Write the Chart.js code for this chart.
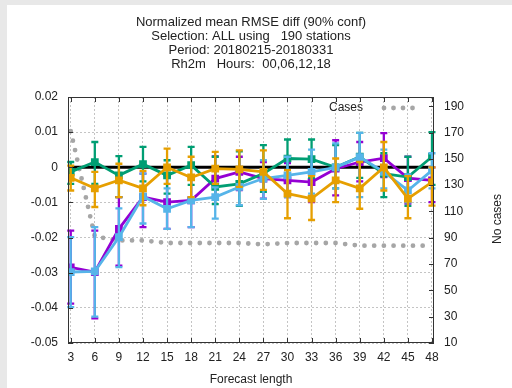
<!DOCTYPE html>
<html>
<head>
<meta charset="utf-8">
<script src="https://cdn.jsdelivr.net/npm/chart.js@4"></script>
<style>
  html, body { margin: 0; padding: 0; background: #e8e8e8; }
  #box { position: absolute; left: 7px; top: 5px; width: 505px; height: 383px; background: #fff; }
</style>
</head>
<body>
<div id="box"><canvas id="chartRmse" width="505" height="383"></canvas></div>
<script>
// forecast lengths (h)
const hours = [3, 6, 9, 12, 15, 18, 21, 24, 27, 30, 33, 36, 39, 42, 45, 48];
const yTicks = [-0.05, -0.04, -0.03, -0.02, -0.01, 0, 0.01, 0.02];
const caseTicks = [10, 30, 50, 70, 90, 110, 130, 150, 170, 190];

// number of cases (right axis)
const cases = [171, 91, 88, 88, 86, 86, 86, 86, 85, 86, 86, 86, 84, 84, 84, 84];

// purple
const purpleVal = [-0.0285, -0.0298, -0.0175, -0.0085, -0.0099, -0.0094, -0.0032, -0.0013, -0.0032, -0.0037, -0.0042, -0.0004, 0.0015, 0.0026, -0.0031, -0.0037];
const purpleLo  = [-0.0388, -0.0430, -0.0280, -0.0170, -0.0175, -0.0170, -0.0085, -0.0065, -0.0089, -0.0085, -0.0099, -0.0080, -0.0040, -0.0028, -0.0103, -0.0099];
const purpleHi  = [-0.0180, -0.0180, -0.0085, -0.0018, -0.0025, -0.0028, 0.0031, 0.0030, 0.0015, 0.0012, 0.0020, 0.0077, 0.0072, 0.0097, 0.0030, 0.0000];

// green
const greenVal = [-0.0013, 0.0015, -0.0023, 0.0009, -0.0023, 0.0006, -0.0056, -0.0047, -0.0018, 0.0025, 0.0023, 0.0000, 0.0030, -0.0018, -0.0028, 0.0030];
const greenLo  = [-0.0047, -0.0047, -0.0085, -0.0040, -0.0075, -0.0050, -0.0105, -0.0110, -0.0070, -0.0030, -0.0030, -0.0060, -0.0030, -0.0085, -0.0110, -0.0050];
const greenHi  = [0.0015, 0.0072, 0.0032, 0.0058, 0.0020, 0.0058, 0.0030, 0.0045, 0.0063, 0.0079, 0.0079, 0.0063, 0.0098, 0.0040, 0.0030, 0.0100];

// light blue
const blueVal = [-0.0298, -0.0296, -0.0199, -0.0083, -0.0118, -0.0094, -0.0085, -0.0056, -0.0032, -0.0023, -0.0013, 0.0000, 0.0029, -0.0013, -0.0066, -0.0009];
const blueLo  = [-0.0398, -0.0425, -0.0284, -0.0160, -0.0175, -0.0170, -0.0146, -0.0108, -0.0090, -0.0085, -0.0075, -0.0060, -0.0085, -0.0060, -0.0100, -0.0060];
const blueHi  = [-0.0199, -0.0170, -0.0117, -0.0018, -0.0060, -0.0035, -0.0057, -0.0010, 0.0020, 0.0030, 0.0050, 0.0068, 0.0098, 0.0050, -0.0020, 0.0040];

// orange
const orangeVal = [-0.0030, -0.0060, -0.0037, -0.0060, 0.0000, -0.0029, -0.0004, -0.0006, -0.0013, -0.0075, -0.0089, -0.0037, -0.0060, 0.0000, -0.0089, -0.0042];
const orangeLo  = [-0.0066, -0.0113, -0.0085, -0.0108, -0.0047, -0.0085, -0.0047, -0.0056, -0.0064, -0.0145, -0.0150, -0.0099, -0.0118, -0.0066, -0.0145, -0.0109];
const orangeHi  = [0.0005, -0.0013, 0.0010, -0.0010, 0.0053, 0.0030, 0.0044, 0.0048, 0.0048, -0.0008, -0.0025, 0.0025, 0.0015, 0.0072, -0.0025, 0.0000];

const titleLines = ['Normalized mean RMSE diff (90% conf)', 'Selection: ALL using   190 stations',
  'Period: 20180215-20180331', 'Rh2m   Hours:  00,06,12,18'];

const FONT = '"Liberation Sans", Arial, sans-serif';
const pts = vals => hours.map((h, i) => ({ x: h, y: vals[i] }));

function series(color, vals, lo, hi, order) {
  return {
    data: pts(vals), lo: lo, hi: hi, yAxisID: 'y', order: order,
    borderColor: color, backgroundColor: color, borderWidth: 2.8,
    pointStyle: 'rect', pointRadius: 3.5, tension: 0
  };
}

// error bars drawn right after each dataset so layering follows the dataset order
const errorBars = {
  id: 'errorBars',
  afterDatasetDraw(chart, args) {
    const ds = chart.data.datasets[args.index];
    if (!ds.lo) return;
    const ctx = chart.ctx, xs = chart.scales.x, ys = chart.scales.y;
    ctx.save();
    ctx.strokeStyle = ds.borderColor;
    ctx.lineWidth = 2.3;
    hours.forEach((h, i) => {
      const px = xs.getPixelForValue(h);
      const a = ys.getPixelForValue(ds.lo[i]), b = ys.getPixelForValue(ds.hi[i]);
      ctx.beginPath();
      ctx.moveTo(px, a); ctx.lineTo(px, b);
      ctx.moveTo(px - 3.5, a); ctx.lineTo(px + 3.5, a);
      ctx.moveTo(px - 3.5, b); ctx.lineTo(px + 3.5, b);
      ctx.stroke();
    });
    ctx.restore();
  }
};

const decor = {
  id: 'decor',
  beforeDatasetsDraw(chart) {
    const ctx = chart.ctx, a = chart.chartArea, ys = chart.scales.y;
    const y0 = ys.getPixelForValue(0);
    ctx.save();
    ctx.strokeStyle = '#000';
    ctx.lineWidth = 3;
    ctx.beginPath(); ctx.moveTo(a.left, y0); ctx.lineTo(a.right, y0); ctx.stroke();
    ctx.restore();
  },
  afterDraw(chart) {
    const ctx = chart.ctx, a = chart.chartArea;
    const xs = chart.scales.x, ys = chart.scales.y, y1 = chart.scales.y1;
    ctx.save();
    // frame and tick marks
    ctx.strokeStyle = '#333';
    ctx.lineWidth = 1;
    ctx.strokeRect(a.left + 0.5, a.top + 0.5, a.right - a.left - 1, a.bottom - a.top - 1);
    ctx.beginPath();
    hours.forEach(h => {
      const px = Math.round(xs.getPixelForValue(h)) + 0.5;
      ctx.moveTo(px, a.bottom); ctx.lineTo(px, a.bottom - 5);
      ctx.moveTo(px, a.top); ctx.lineTo(px, a.top + 5);
    });
    yTicks.forEach(v => {
      const py = Math.round(ys.getPixelForValue(v)) + 0.5;
      ctx.moveTo(a.left, py); ctx.lineTo(a.left + 5, py);
    });
    caseTicks.forEach(v => {
      const py = Math.round(y1.getPixelForValue(v)) + 0.5;
      ctx.moveTo(a.right, py); ctx.lineTo(a.right - 5, py);
    });
    ctx.stroke();

    // title
    ctx.fillStyle = '#222';
    ctx.font = '13px ' + FONT;
    ctx.textAlign = 'center';
    ctx.textBaseline = 'middle';
    const cx = (a.left + a.right) / 2;
    titleLines.forEach((t, i) => ctx.fillText(t, cx, 17 + i * 14));
    ctx.font = '12px ' + FONT;
    ctx.fillText('Forecast length', cx, 375);

    ctx.save();
    ctx.translate(491, 214);
    ctx.rotate(-Math.PI / 2);
    ctx.fillText('No cases', 0, 0);
    ctx.restore();

    // legend
    ctx.textAlign = 'right';
    ctx.fillText('Cases', 356, 103);
    ctx.fillStyle = '#a6a6a6';
    [377, 386.5, 396, 405.5].forEach(px => {
      ctx.beginPath(); ctx.arc(px, 103, 2.4, 0, Math.PI * 2); ctx.fill();
    });
    ctx.restore();
  }
};

new Chart(document.getElementById('chartRmse'), {
  type: 'line',
  data: {
    datasets: [
      series('#e69f00', orangeVal, orangeLo, orangeHi, 1),
      series('#56b4e9', blueVal, blueLo, blueHi, 2),
      series('#009e73', greenVal, greenLo, greenHi, 3),
      series('#9400d3', purpleVal, purpleLo, purpleHi, 4),
      {
        data: pts(cases), yAxisID: 'y1', order: 5,
        borderColor: '#a6a6a6', borderWidth: 4.8, borderCapStyle: 'round',
        borderDash: [0, 9.7], pointRadius: 0, tension: 0
      }
    ]
  },
  options: {
    responsive: false,
    animation: false,
    layout: { padding: { top: 92, left: 0, right: 0, bottom: 0 } },
    plugins: { legend: { display: false }, tooltip: { enabled: false } },
    scales: {
      x: {
        type: 'linear', min: 2.66, max: 48.25,
        afterBuildTicks: s => { s.ticks = hours.map(v => ({ value: v })); },
        afterFit: s => { s.height = 45; },
        grid: { color: '#c4c4c4', drawTicks: false },
        border: { display: false, dash: [2, 2] },
        ticks: { padding: 7, color: '#222', font: { family: FONT, size: 12 }, maxRotation: 0, autoSkip: false }
      },
      y: {
        position: 'left', min: -0.05, max: 0.02,
        afterBuildTicks: s => { s.ticks = yTicks.map(v => ({ value: v })); },
        afterFit: s => { s.width = 61; },
        grid: { color: '#c4c4c4', drawTicks: false },
        border: { display: false, dash: [2, 2] },
        ticks: { padding: 10, color: '#222', font: { family: FONT, size: 12 },
          callback: v => String(Number(v.toFixed(2))) }
      },
      y1: {
        position: 'right', min: 10, max: 197,
        afterBuildTicks: s => { s.ticks = caseTicks.map(v => ({ value: v })); },
        afterFit: s => { s.width = 78; },
        grid: { display: false, drawTicks: false },
        border: { display: false },
        ticks: { padding: 10, color: '#222', font: { family: FONT, size: 12 } }
      }
    }
  },
  plugins: [errorBars, decor]
});
</script>
</body>
</html>
